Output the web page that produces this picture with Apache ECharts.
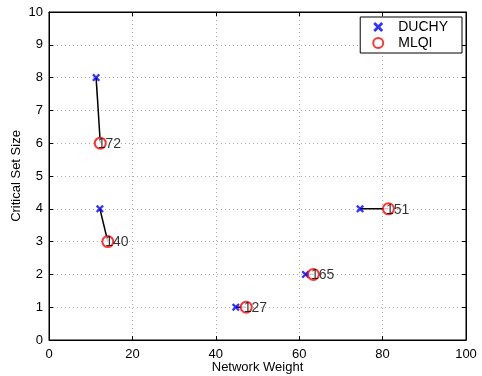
<!DOCTYPE html>
<html>
<head>
<meta charset="utf-8">
<script src="https://cdn.jsdelivr.net/npm/echarts@6/dist/echarts.min.js"></script>
<style>
  html, body { margin: 0; padding: 0; background: #fff; }
  #chart { width: 482px; height: 376px; }
</style>
</head>
<body>
<div id="chart"></div>
<script>
// each pair: DUCHY point -> MLQI point, labelled by id
const pairLabels = ['172', '140', '151', '165', '127']
const duchy = [[11.3, 8], [12.2, 4], [74.6, 4], [61.5, 2], [44.8, 1]]
const mlqi = [[12.3, 6], [14.1, 3], [81.4, 4], [63.4, 2], [47.3, 1]]
const xTicks = [0, 20, 40, 60, 80, 100]
const yTicks = [0, 1, 2, 3, 4, 5, 6, 7, 8, 9, 10]

const font = 'Liberation Sans, Arial, sans-serif'
const crossPath = 'path://M0,2L2,0L5,3L8,0L10,2L7,5L10,8L8,10L5,7L2,10L0,8L3,5Z'

const chart = echarts.init(document.getElementById('chart'))

const axisBase = {
    type: 'value',
    nameMoveOverlap: false,
    axisLine: { show: true, onZero: false, lineStyle: { color: '#000', width: 1 } },
    axisTick: { show: true, inside: true, length: 4, lineStyle: { color: '#000' } },
    axisLabel: { color: '#000', fontFamily: font, fontSize: 13 },
}

const pairLines = duchy.map((d, i) => ({
    type: 'line',
    data: [d, mlqi[i]],
    symbol: 'none',
    lineStyle: { color: '#000', width: 1.5 },
    z: 2,
    silent: true
}))

chart.setOption({
    animation: false,
    grid: {
        left: 49, right: 16, top: 12, bottom: 36,
        outerBoundsMode: 'none',
        show: true, borderColor: '#000', borderWidth: 1
    },
    legend: {
        data: ['DUCHY', 'MLQI'],
        orient: 'vertical',
        right: 20,
        top: 17,
        backgroundColor: '#fff',
        borderColor: '#000',
        borderWidth: 1,
        padding: [3, 14, 3, 12],
        itemGap: 2,
        itemWidth: 14,
        itemHeight: 10,
        textStyle: { color: '#000', fontFamily: font, fontSize: 14, padding: [0, 0, 0, 8] }
    },
    xAxis: [
        Object.assign({}, axisBase, {
            min: xTicks[0], max: xTicks[xTicks.length - 1], interval: 20,
            name: 'Network Weight', nameLocation: 'middle', nameGap: 21,
            nameTextStyle: { color: '#000', fontFamily: font, fontSize: 13 },
            splitLine: { show: true, lineStyle: { color: '#aaa', type: [1, 3] } }
        }),
        Object.assign({}, axisBase, {
            position: 'top', min: 0, max: 100, interval: 20,
            axisLabel: { show: false }, splitLine: { show: false }
        })
    ],
    yAxis: [
        Object.assign({}, axisBase, {
            min: yTicks[0], max: yTicks[yTicks.length - 1], interval: 1,
            name: 'Critical Set Size', nameLocation: 'middle', nameGap: 26,
            nameTextStyle: { color: '#000', fontFamily: font, fontSize: 13 },
            axisLabel: { color: '#000', fontFamily: font, fontSize: 13, margin: 6 },
            splitLine: { show: true, lineStyle: { color: '#aaa', type: [1, 3] } }
        }),
        Object.assign({}, axisBase, {
            position: 'right', min: 0, max: 10, interval: 1,
            axisLabel: { show: false }, splitLine: { show: false }
        })
    ],
    series: pairLines.concat([
        {
            name: 'DUCHY',
            type: 'scatter',
            data: duchy,
            symbol: crossPath,
            symbolSize: 8,
            itemStyle: { color: '#0000ff' },
            z: 3
        },
        {
            name: 'MLQI',
            type: 'scatter',
            data: mlqi.map((p, i) => ({ value: p, label: { formatter: pairLabels[i] } })),
            symbol: 'emptyCircle',
            symbolSize: 11,
            itemStyle: { color: '#ff0000', borderColor: '#ff0000', borderWidth: 1.6 },
            label: {
                show: true,
                position: 'right',
                distance: 0,
                offset: [-9, 1],
                color: '#000',
                fontFamily: font,
                fontSize: 14
            },
            z: 4
        }
    ])
})
</script>
</body>
</html>
